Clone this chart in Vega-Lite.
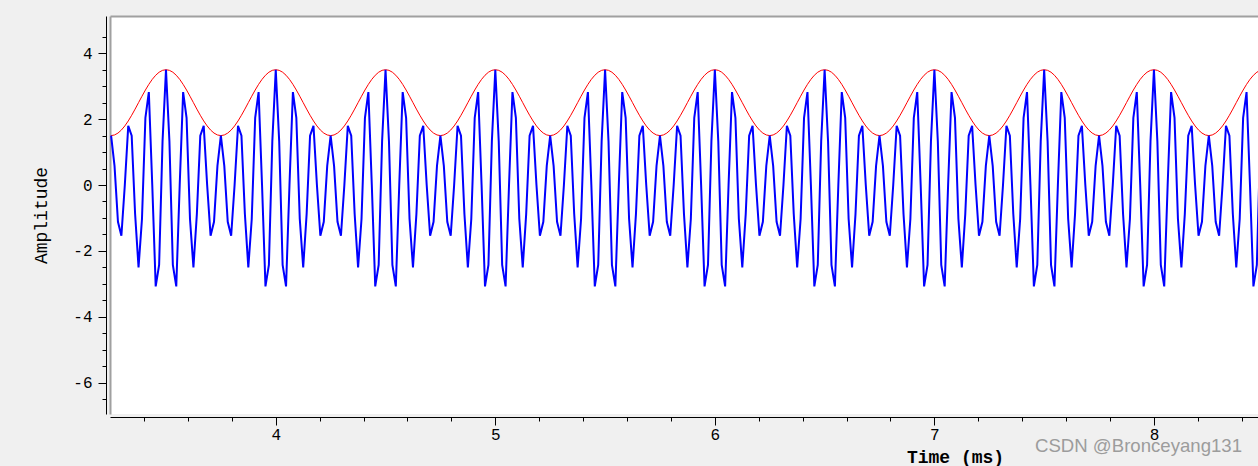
{
"$schema": "https://vega.github.io/schema/vega-lite/v6.json",
"width": 1148, "height": 398,
"autosize": "none",
"padding": {"left": 110, "top": 16, "right": 0, "bottom": 52},
"background": "#f0f0f0",
"view": {"fill": "white", "stroke": null},
"title": {"text": "CSDN @Bronceyang131", "orient": "bottom", "anchor": "end", "frame": "group", "font": "Liberation Sans", "fontSize": 18.6, "fontWeight": "normal", "color": "#9c9c9c", "offset": 0, "dx": -16, "dy": -29},
"data": {"values": [
{"t":3.25,"b":1.5,"r":1.5},{"t":3.265625,"b":0.5814,"r":1.5192},{"t":3.28125,"b":-1.1145,"r":1.5761},{"t":3.296875,"b":-1.5415,"r":1.6685},{"t":3.3125,"b":0,"r":1.7929},{"t":3.328125,"b":1.7964,"r":1.9444},{"t":3.34375,"b":1.4972,"r":2.1173},{"t":3.359375,"b":-0.8821,"r":2.3049},{"t":3.375,"b":-2.5,"r":2.5},{"t":3.390625,"b":-1.0314,"r":2.6951},{"t":3.40625,"b":2.0384,"r":2.8827},{"t":3.421875,"b":2.823,"r":3.0556},{"t":3.4375,"b":0,"r":3.2071},{"t":3.453125,"b":-3.0779,"r":3.3315},{"t":3.46875,"b":-2.421,"r":3.4239},{"t":3.484375,"b":1.332,"r":3.4808},
{"t":3.5,"b":3.5,"r":3.5},{"t":3.515625,"b":1.332,"r":3.4808},{"t":3.53125,"b":-2.421,"r":3.4239},{"t":3.546875,"b":-3.0779,"r":3.3315},{"t":3.5625,"b":0,"r":3.2071},{"t":3.578125,"b":2.823,"r":3.0556},{"t":3.59375,"b":2.0384,"r":2.8827},{"t":3.609375,"b":-1.0314,"r":2.6951},{"t":3.625,"b":-2.5,"r":2.5},{"t":3.640625,"b":-0.8821,"r":2.3049},{"t":3.65625,"b":1.4972,"r":2.1173},{"t":3.671875,"b":1.7964,"r":1.9444},{"t":3.6875,"b":0,"r":1.7929},{"t":3.703125,"b":-1.5415,"r":1.6685},{"t":3.71875,"b":-1.1145,"r":1.5761},{"t":3.734375,"b":0.5814,"r":1.5192},
{"t":3.75,"b":1.5,"r":1.5},{"t":3.765625,"b":0.5814,"r":1.5192},{"t":3.78125,"b":-1.1145,"r":1.5761},{"t":3.796875,"b":-1.5415,"r":1.6685},{"t":3.8125,"b":0,"r":1.7929},{"t":3.828125,"b":1.7964,"r":1.9444},{"t":3.84375,"b":1.4972,"r":2.1173},{"t":3.859375,"b":-0.8821,"r":2.3049},{"t":3.875,"b":-2.5,"r":2.5},{"t":3.890625,"b":-1.0314,"r":2.6951},{"t":3.90625,"b":2.0384,"r":2.8827},{"t":3.921875,"b":2.823,"r":3.0556},{"t":3.9375,"b":0,"r":3.2071},{"t":3.953125,"b":-3.0779,"r":3.3315},{"t":3.96875,"b":-2.421,"r":3.4239},{"t":3.984375,"b":1.332,"r":3.4808},
{"t":4,"b":3.5,"r":3.5},{"t":4.015625,"b":1.332,"r":3.4808},{"t":4.03125,"b":-2.421,"r":3.4239},{"t":4.046875,"b":-3.0779,"r":3.3315},{"t":4.0625,"b":0,"r":3.2071},{"t":4.078125,"b":2.823,"r":3.0556},{"t":4.09375,"b":2.0384,"r":2.8827},{"t":4.109375,"b":-1.0314,"r":2.6951},{"t":4.125,"b":-2.5,"r":2.5},{"t":4.140625,"b":-0.8821,"r":2.3049},{"t":4.15625,"b":1.4972,"r":2.1173},{"t":4.171875,"b":1.7964,"r":1.9444},{"t":4.1875,"b":0,"r":1.7929},{"t":4.203125,"b":-1.5415,"r":1.6685},{"t":4.21875,"b":-1.1145,"r":1.5761},{"t":4.234375,"b":0.5814,"r":1.5192},
{"t":4.25,"b":1.5,"r":1.5},{"t":4.265625,"b":0.5814,"r":1.5192},{"t":4.28125,"b":-1.1145,"r":1.5761},{"t":4.296875,"b":-1.5415,"r":1.6685},{"t":4.3125,"b":0,"r":1.7929},{"t":4.328125,"b":1.7964,"r":1.9444},{"t":4.34375,"b":1.4972,"r":2.1173},{"t":4.359375,"b":-0.8821,"r":2.3049},{"t":4.375,"b":-2.5,"r":2.5},{"t":4.390625,"b":-1.0314,"r":2.6951},{"t":4.40625,"b":2.0384,"r":2.8827},{"t":4.421875,"b":2.823,"r":3.0556},{"t":4.4375,"b":0,"r":3.2071},{"t":4.453125,"b":-3.0779,"r":3.3315},{"t":4.46875,"b":-2.421,"r":3.4239},{"t":4.484375,"b":1.332,"r":3.4808},
{"t":4.5,"b":3.5,"r":3.5},{"t":4.515625,"b":1.332,"r":3.4808},{"t":4.53125,"b":-2.421,"r":3.4239},{"t":4.546875,"b":-3.0779,"r":3.3315},{"t":4.5625,"b":0,"r":3.2071},{"t":4.578125,"b":2.823,"r":3.0556},{"t":4.59375,"b":2.0384,"r":2.8827},{"t":4.609375,"b":-1.0314,"r":2.6951},{"t":4.625,"b":-2.5,"r":2.5},{"t":4.640625,"b":-0.8821,"r":2.3049},{"t":4.65625,"b":1.4972,"r":2.1173},{"t":4.671875,"b":1.7964,"r":1.9444},{"t":4.6875,"b":0,"r":1.7929},{"t":4.703125,"b":-1.5415,"r":1.6685},{"t":4.71875,"b":-1.1145,"r":1.5761},{"t":4.734375,"b":0.5814,"r":1.5192},
{"t":4.75,"b":1.5,"r":1.5},{"t":4.765625,"b":0.5814,"r":1.5192},{"t":4.78125,"b":-1.1145,"r":1.5761},{"t":4.796875,"b":-1.5415,"r":1.6685},{"t":4.8125,"b":0,"r":1.7929},{"t":4.828125,"b":1.7964,"r":1.9444},{"t":4.84375,"b":1.4972,"r":2.1173},{"t":4.859375,"b":-0.8821,"r":2.3049},{"t":4.875,"b":-2.5,"r":2.5},{"t":4.890625,"b":-1.0314,"r":2.6951},{"t":4.90625,"b":2.0384,"r":2.8827},{"t":4.921875,"b":2.823,"r":3.0556},{"t":4.9375,"b":0,"r":3.2071},{"t":4.953125,"b":-3.0779,"r":3.3315},{"t":4.96875,"b":-2.421,"r":3.4239},{"t":4.984375,"b":1.332,"r":3.4808},
{"t":5,"b":3.5,"r":3.5},{"t":5.015625,"b":1.332,"r":3.4808},{"t":5.03125,"b":-2.421,"r":3.4239},{"t":5.046875,"b":-3.0779,"r":3.3315},{"t":5.0625,"b":0,"r":3.2071},{"t":5.078125,"b":2.823,"r":3.0556},{"t":5.09375,"b":2.0384,"r":2.8827},{"t":5.109375,"b":-1.0314,"r":2.6951},{"t":5.125,"b":-2.5,"r":2.5},{"t":5.140625,"b":-0.8821,"r":2.3049},{"t":5.15625,"b":1.4972,"r":2.1173},{"t":5.171875,"b":1.7964,"r":1.9444},{"t":5.1875,"b":0,"r":1.7929},{"t":5.203125,"b":-1.5415,"r":1.6685},{"t":5.21875,"b":-1.1145,"r":1.5761},{"t":5.234375,"b":0.5814,"r":1.5192},
{"t":5.25,"b":1.5,"r":1.5},{"t":5.265625,"b":0.5814,"r":1.5192},{"t":5.28125,"b":-1.1145,"r":1.5761},{"t":5.296875,"b":-1.5415,"r":1.6685},{"t":5.3125,"b":0,"r":1.7929},{"t":5.328125,"b":1.7964,"r":1.9444},{"t":5.34375,"b":1.4972,"r":2.1173},{"t":5.359375,"b":-0.8821,"r":2.3049},{"t":5.375,"b":-2.5,"r":2.5},{"t":5.390625,"b":-1.0314,"r":2.6951},{"t":5.40625,"b":2.0384,"r":2.8827},{"t":5.421875,"b":2.823,"r":3.0556},{"t":5.4375,"b":0,"r":3.2071},{"t":5.453125,"b":-3.0779,"r":3.3315},{"t":5.46875,"b":-2.421,"r":3.4239},{"t":5.484375,"b":1.332,"r":3.4808},
{"t":5.5,"b":3.5,"r":3.5},{"t":5.515625,"b":1.332,"r":3.4808},{"t":5.53125,"b":-2.421,"r":3.4239},{"t":5.546875,"b":-3.0779,"r":3.3315},{"t":5.5625,"b":0,"r":3.2071},{"t":5.578125,"b":2.823,"r":3.0556},{"t":5.59375,"b":2.0384,"r":2.8827},{"t":5.609375,"b":-1.0314,"r":2.6951},{"t":5.625,"b":-2.5,"r":2.5},{"t":5.640625,"b":-0.8821,"r":2.3049},{"t":5.65625,"b":1.4972,"r":2.1173},{"t":5.671875,"b":1.7964,"r":1.9444},{"t":5.6875,"b":0,"r":1.7929},{"t":5.703125,"b":-1.5415,"r":1.6685},{"t":5.71875,"b":-1.1145,"r":1.5761},{"t":5.734375,"b":0.5814,"r":1.5192},
{"t":5.75,"b":1.5,"r":1.5},{"t":5.765625,"b":0.5814,"r":1.5192},{"t":5.78125,"b":-1.1145,"r":1.5761},{"t":5.796875,"b":-1.5415,"r":1.6685},{"t":5.8125,"b":0,"r":1.7929},{"t":5.828125,"b":1.7964,"r":1.9444},{"t":5.84375,"b":1.4972,"r":2.1173},{"t":5.859375,"b":-0.8821,"r":2.3049},{"t":5.875,"b":-2.5,"r":2.5},{"t":5.890625,"b":-1.0314,"r":2.6951},{"t":5.90625,"b":2.0384,"r":2.8827},{"t":5.921875,"b":2.823,"r":3.0556},{"t":5.9375,"b":0,"r":3.2071},{"t":5.953125,"b":-3.0779,"r":3.3315},{"t":5.96875,"b":-2.421,"r":3.4239},{"t":5.984375,"b":1.332,"r":3.4808},
{"t":6,"b":3.5,"r":3.5},{"t":6.015625,"b":1.332,"r":3.4808},{"t":6.03125,"b":-2.421,"r":3.4239},{"t":6.046875,"b":-3.0779,"r":3.3315},{"t":6.0625,"b":0,"r":3.2071},{"t":6.078125,"b":2.823,"r":3.0556},{"t":6.09375,"b":2.0384,"r":2.8827},{"t":6.109375,"b":-1.0314,"r":2.6951},{"t":6.125,"b":-2.5,"r":2.5},{"t":6.140625,"b":-0.8821,"r":2.3049},{"t":6.15625,"b":1.4972,"r":2.1173},{"t":6.171875,"b":1.7964,"r":1.9444},{"t":6.1875,"b":0,"r":1.7929},{"t":6.203125,"b":-1.5415,"r":1.6685},{"t":6.21875,"b":-1.1145,"r":1.5761},{"t":6.234375,"b":0.5814,"r":1.5192},
{"t":6.25,"b":1.5,"r":1.5},{"t":6.265625,"b":0.5814,"r":1.5192},{"t":6.28125,"b":-1.1145,"r":1.5761},{"t":6.296875,"b":-1.5415,"r":1.6685},{"t":6.3125,"b":0,"r":1.7929},{"t":6.328125,"b":1.7964,"r":1.9444},{"t":6.34375,"b":1.4972,"r":2.1173},{"t":6.359375,"b":-0.8821,"r":2.3049},{"t":6.375,"b":-2.5,"r":2.5},{"t":6.390625,"b":-1.0314,"r":2.6951},{"t":6.40625,"b":2.0384,"r":2.8827},{"t":6.421875,"b":2.823,"r":3.0556},{"t":6.4375,"b":0,"r":3.2071},{"t":6.453125,"b":-3.0779,"r":3.3315},{"t":6.46875,"b":-2.421,"r":3.4239},{"t":6.484375,"b":1.332,"r":3.4808},
{"t":6.5,"b":3.5,"r":3.5},{"t":6.515625,"b":1.332,"r":3.4808},{"t":6.53125,"b":-2.421,"r":3.4239},{"t":6.546875,"b":-3.0779,"r":3.3315},{"t":6.5625,"b":0,"r":3.2071},{"t":6.578125,"b":2.823,"r":3.0556},{"t":6.59375,"b":2.0384,"r":2.8827},{"t":6.609375,"b":-1.0314,"r":2.6951},{"t":6.625,"b":-2.5,"r":2.5},{"t":6.640625,"b":-0.8821,"r":2.3049},{"t":6.65625,"b":1.4972,"r":2.1173},{"t":6.671875,"b":1.7964,"r":1.9444},{"t":6.6875,"b":0,"r":1.7929},{"t":6.703125,"b":-1.5415,"r":1.6685},{"t":6.71875,"b":-1.1145,"r":1.5761},{"t":6.734375,"b":0.5814,"r":1.5192},
{"t":6.75,"b":1.5,"r":1.5},{"t":6.765625,"b":0.5814,"r":1.5192},{"t":6.78125,"b":-1.1145,"r":1.5761},{"t":6.796875,"b":-1.5415,"r":1.6685},{"t":6.8125,"b":0,"r":1.7929},{"t":6.828125,"b":1.7964,"r":1.9444},{"t":6.84375,"b":1.4972,"r":2.1173},{"t":6.859375,"b":-0.8821,"r":2.3049},{"t":6.875,"b":-2.5,"r":2.5},{"t":6.890625,"b":-1.0314,"r":2.6951},{"t":6.90625,"b":2.0384,"r":2.8827},{"t":6.921875,"b":2.823,"r":3.0556},{"t":6.9375,"b":0,"r":3.2071},{"t":6.953125,"b":-3.0779,"r":3.3315},{"t":6.96875,"b":-2.421,"r":3.4239},{"t":6.984375,"b":1.332,"r":3.4808},
{"t":7,"b":3.5,"r":3.5},{"t":7.015625,"b":1.332,"r":3.4808},{"t":7.03125,"b":-2.421,"r":3.4239},{"t":7.046875,"b":-3.0779,"r":3.3315},{"t":7.0625,"b":0,"r":3.2071},{"t":7.078125,"b":2.823,"r":3.0556},{"t":7.09375,"b":2.0384,"r":2.8827},{"t":7.109375,"b":-1.0314,"r":2.6951},{"t":7.125,"b":-2.5,"r":2.5},{"t":7.140625,"b":-0.8821,"r":2.3049},{"t":7.15625,"b":1.4972,"r":2.1173},{"t":7.171875,"b":1.7964,"r":1.9444},{"t":7.1875,"b":0,"r":1.7929},{"t":7.203125,"b":-1.5415,"r":1.6685},{"t":7.21875,"b":-1.1145,"r":1.5761},{"t":7.234375,"b":0.5814,"r":1.5192},
{"t":7.25,"b":1.5,"r":1.5},{"t":7.265625,"b":0.5814,"r":1.5192},{"t":7.28125,"b":-1.1145,"r":1.5761},{"t":7.296875,"b":-1.5415,"r":1.6685},{"t":7.3125,"b":0,"r":1.7929},{"t":7.328125,"b":1.7964,"r":1.9444},{"t":7.34375,"b":1.4972,"r":2.1173},{"t":7.359375,"b":-0.8821,"r":2.3049},{"t":7.375,"b":-2.5,"r":2.5},{"t":7.390625,"b":-1.0314,"r":2.6951},{"t":7.40625,"b":2.0384,"r":2.8827},{"t":7.421875,"b":2.823,"r":3.0556},{"t":7.4375,"b":0,"r":3.2071},{"t":7.453125,"b":-3.0779,"r":3.3315},{"t":7.46875,"b":-2.421,"r":3.4239},{"t":7.484375,"b":1.332,"r":3.4808},
{"t":7.5,"b":3.5,"r":3.5},{"t":7.515625,"b":1.332,"r":3.4808},{"t":7.53125,"b":-2.421,"r":3.4239},{"t":7.546875,"b":-3.0779,"r":3.3315},{"t":7.5625,"b":0,"r":3.2071},{"t":7.578125,"b":2.823,"r":3.0556},{"t":7.59375,"b":2.0384,"r":2.8827},{"t":7.609375,"b":-1.0314,"r":2.6951},{"t":7.625,"b":-2.5,"r":2.5},{"t":7.640625,"b":-0.8821,"r":2.3049},{"t":7.65625,"b":1.4972,"r":2.1173},{"t":7.671875,"b":1.7964,"r":1.9444},{"t":7.6875,"b":0,"r":1.7929},{"t":7.703125,"b":-1.5415,"r":1.6685},{"t":7.71875,"b":-1.1145,"r":1.5761},{"t":7.734375,"b":0.5814,"r":1.5192},
{"t":7.75,"b":1.5,"r":1.5},{"t":7.765625,"b":0.5814,"r":1.5192},{"t":7.78125,"b":-1.1145,"r":1.5761},{"t":7.796875,"b":-1.5415,"r":1.6685},{"t":7.8125,"b":0,"r":1.7929},{"t":7.828125,"b":1.7964,"r":1.9444},{"t":7.84375,"b":1.4972,"r":2.1173},{"t":7.859375,"b":-0.8821,"r":2.3049},{"t":7.875,"b":-2.5,"r":2.5},{"t":7.890625,"b":-1.0314,"r":2.6951},{"t":7.90625,"b":2.0384,"r":2.8827},{"t":7.921875,"b":2.823,"r":3.0556},{"t":7.9375,"b":0,"r":3.2071},{"t":7.953125,"b":-3.0779,"r":3.3315},{"t":7.96875,"b":-2.421,"r":3.4239},{"t":7.984375,"b":1.332,"r":3.4808},
{"t":8,"b":3.5,"r":3.5},{"t":8.015625,"b":1.332,"r":3.4808},{"t":8.03125,"b":-2.421,"r":3.4239},{"t":8.046875,"b":-3.0779,"r":3.3315},{"t":8.0625,"b":0,"r":3.2071},{"t":8.078125,"b":2.823,"r":3.0556},{"t":8.09375,"b":2.0384,"r":2.8827},{"t":8.109375,"b":-1.0314,"r":2.6951},{"t":8.125,"b":-2.5,"r":2.5},{"t":8.140625,"b":-0.8821,"r":2.3049},{"t":8.15625,"b":1.4972,"r":2.1173},{"t":8.171875,"b":1.7964,"r":1.9444},{"t":8.1875,"b":0,"r":1.7929},{"t":8.203125,"b":-1.5415,"r":1.6685},{"t":8.21875,"b":-1.1145,"r":1.5761},{"t":8.234375,"b":0.5814,"r":1.5192},
{"t":8.25,"b":1.5,"r":1.5},{"t":8.265625,"b":0.5814,"r":1.5192},{"t":8.28125,"b":-1.1145,"r":1.5761},{"t":8.296875,"b":-1.5415,"r":1.6685},{"t":8.3125,"b":0,"r":1.7929},{"t":8.328125,"b":1.7964,"r":1.9444},{"t":8.34375,"b":1.4972,"r":2.1173},{"t":8.359375,"b":-0.8821,"r":2.3049},{"t":8.375,"b":-2.5,"r":2.5},{"t":8.390625,"b":-1.0314,"r":2.6951},{"t":8.40625,"b":2.0384,"r":2.8827},{"t":8.421875,"b":2.823,"r":3.0556},{"t":8.4375,"b":0,"r":3.2071},{"t":8.453125,"b":-3.0779,"r":3.3315},{"t":8.46875,"b":-2.421,"r":3.4239},{"t":8.484375,"b":1.332,"r":3.4808},
{"t":8.5,"b":3.5,"r":3.5}
]},
"layer": [
{"mark": {"type": "line", "color": "#ff0000", "strokeWidth": 1, "clip": true},
 "encoding": {
  "x": {"field": "t", "type": "quantitative", "scale": {"domain": [3.245, 8.474], "nice": false, "zero": false},
   "axis": {"orient": "bottom", "offset": 3, "grid": false,
    "values": [3.4,3.6,3.8,4,4.2,4.4,4.6,4.8,5,5.2,5.4,5.6,5.8,6,6.2,6.4,6.6,6.8,7,7.2,7.4,7.6,7.8,8,8.2,8.4],
    "tickSize": {"condition": {"test": "datum.value % 1 === 0", "value": 8}, "value": 4},
    "labelExpr": "datum.value % 1 === 0 ? '' + datum.value : ''",
    "domainColor": "#000000", "domainWidth": 1, "tickColor": "#000000", "tickWidth": 1,
    "labelFont": "Liberation Mono", "labelFontSize": 16, "labelColor": "#000000", "labelPadding": 1, "labelFlush": false, "labelOverlap": false,
    "title": "Time (ms)", "titleFont": "Liberation Mono", "titleFontSize": 18, "titleFontWeight": "bold", "titleColor": "#000000",
    "titleX": 845, "titleY": 45, "titleAlign": "center", "titleBaseline": "alphabetic"}},
  "y": {"field": "r", "type": "quantitative", "scale": {"domain": [-6.95, 5.13], "nice": false, "zero": false},
   "axis": {"orient": "left", "offset": 4, "grid": false,
    "values": [-6.5,-6,-5.5,-5,-4.5,-4,-3.5,-3,-2.5,-2,-1.5,-1,-0.5,0,0.5,1,1.5,2,2.5,3,3.5,4,4.5],
    "tickSize": {"condition": {"test": "datum.value % 2 === 0", "value": 8}, "value": 4},
    "labelExpr": "datum.value % 2 === 0 ? (datum.value < 0 ? '-' + abs(datum.value) : '' + datum.value) : ''",
    "domainColor": "#000000", "domainWidth": 1, "tickColor": "#000000", "tickWidth": 1,
    "labelFont": "Liberation Mono", "labelFontSize": 16, "labelColor": "#000000", "labelPadding": 6, "labelOverlap": false,
    "title": "Amplitude", "titleFont": "Liberation Mono", "titleFontSize": 18, "titleFontWeight": "normal", "titleColor": "#000000",
    "titleX": -65, "titleY": 199, "titleAngle": -90, "titleAlign": "center", "titleBaseline": "middle"}}
 }},
{"mark": {"type": "line", "color": "#0000ff", "strokeWidth": 2, "clip": true},
 "encoding": {
  "x": {"field": "t", "type": "quantitative",
   "axis": {"orient": "top", "offset": 0, "grid": false, "ticks": false, "labels": false, "title": null, "domainColor": "#a0a0a0", "domainWidth": 2}},
  "y": {"field": "b", "type": "quantitative",
   "axis": {"orient": "left", "offset": 0, "grid": false, "ticks": false, "labels": false, "title": null, "domainColor": "#a0a0a0", "domainWidth": 2}}
 }}
],
"resolve": {"axis": {"x": "independent", "y": "independent"}}
}
